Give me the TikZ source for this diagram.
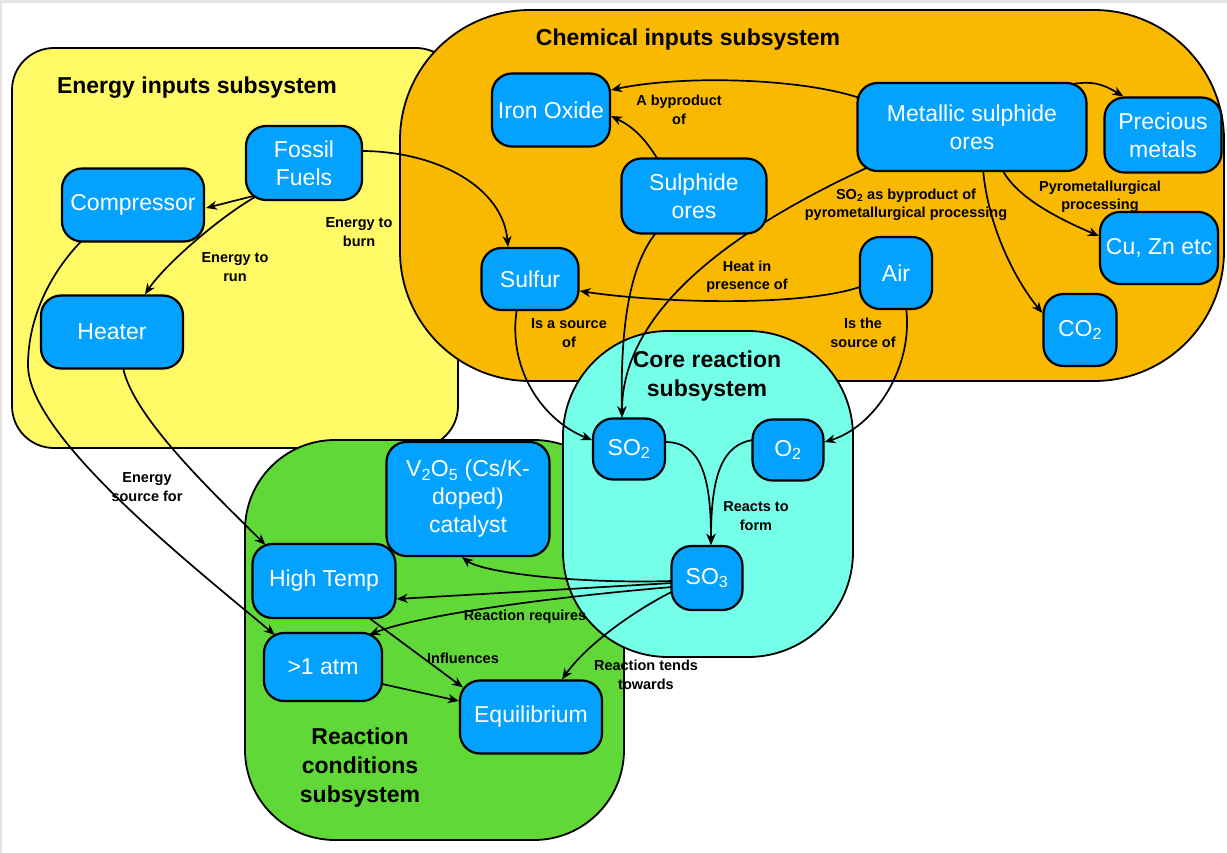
\documentclass[tikz,border=0pt]{standalone}
\usepackage{fontspec}
\setmainfont{Liberation Sans}
\usetikzlibrary{arrows.meta,calc}
\pgfdeclarelayer{bg}
\pgfdeclarelayer{edges}
\pgfsetlayers{bg,edges,main}
\definecolor{cyel}{RGB}{255,250,102}
\definecolor{corg}{RGB}{249,185,0}
\definecolor{cgrn}{RGB}{96,216,56}
\definecolor{ccyn}{RGB}{118,255,232}
\definecolor{cblu}{RGB}{3,162,255}
\tikzset{
  subsys/.style={draw=black, line width=1.8pt},
  box/.style={draw=black, fill=cblu, line width=2.2pt, rounded corners=20pt, text=white,
    align=center, font=\fontsize{23}{28}\selectfont, inner sep=0pt},
  ttl/.style={align=center, font=\bfseries\fontsize{23}{29}\selectfont, inner sep=0pt},
  lab/.style={align=center, font=\bfseries\fontsize{14.5}{18.5}\selectfont, inner sep=0pt},
  arr/.style={line width=1.7pt, -{Stealth[length=11pt,width=9pt]}},
}
\begin{document}
\begin{tikzpicture}[x=1pt,y=-1pt]
\useasboundingbox (0,0) rectangle (1227,853);
\begin{pgfonlayer}{bg}
  \fill[gray!20] (0,0) rectangle (1227,3);
  \fill[gray!20] (0,0) rectangle (2,853);
  \draw[subsys, fill=cyel, rounded corners=42pt] (12,48) rectangle (458,448);
  \draw[subsys, fill=corg, rounded corners=130pt] (400,10) rectangle (1224,381);
  \draw[subsys, fill=cgrn, rounded corners=90pt] (245,440) rectangle (624,840);
  \draw[subsys, fill=ccyn, rounded corners=105pt] (563,331) rectangle (853,657);
\end{pgfonlayer}

% titles
\node[ttl] (t1) at (197,88) {Energy inputs subsystem};
\node[ttl] (t2) at (688,40) {Chemical inputs subsystem};
\node[ttl] (t3) at (707,376) {Core reaction\\subsystem};
\node[ttl] (t4) at (360,768) {Reaction\\conditions\\subsystem};

% nodes
\node[box, minimum width=116pt, minimum height=74pt] (ff) at (304,163) {Fossil\\Fuels};
\node[box, minimum width=142pt, minimum height=73pt] (comp) at (133,205) {Compressor};
\node[box, minimum width=142pt, minimum height=73pt] (heat) at (112,332) {Heater};
\node[box, minimum width=118pt, minimum height=73pt] (iron) at (551,110) {Iron Oxide};
\node[box, minimum width=145pt, minimum height=75pt] (sulph) at (694,196) {Sulphide\\ores};
\node[box, minimum width=229pt, minimum height=88pt] (metal) at (972,127) {Metallic sulphide\\ores};
\node[box, minimum width=117pt, minimum height=75pt] (prec) at (1163,135) {Precious\\metals};
\node[box, minimum width=97pt, minimum height=62pt] (sulfur) at (530,279) {Sulfur};
\node[box, minimum width=72pt, minimum height=72pt] (air) at (896,273) {Air};
\node[box, minimum width=118pt, minimum height=72pt] (cuzn) at (1159,248) {Cu, Zn etc};
\node[box, minimum width=73pt, minimum height=72pt] (co2) at (1080,330) {CO\textsubscript{2}};
\node[box, minimum width=72pt, minimum height=61pt] (so2) at (629,449) {SO\textsubscript{2}};
\node[box, minimum width=71pt, minimum height=61pt] (o2) at (788,450) {O\textsubscript{2}};
\node[box, minimum width=163pt, minimum height=114pt] (v2o5) at (468,499) {V\textsubscript{2}O\textsubscript{5} (Cs/K-\\doped)\\catalyst};
\node[box, minimum width=71pt, minimum height=64pt] (so3) at (707,578) {SO\textsubscript{3}};
\node[box, minimum width=143pt, minimum height=74pt] (hight) at (324,581) {High Temp};
\node[box, minimum width=118pt, minimum height=68pt] (atm) at (323,667) {>1 atm};
\node[box, minimum width=142pt, minimum height=73pt] (eq) at (531,717) {Equilibrium};

% labels
\node[lab] (runlab) at (235,267) {Energy to\\run};
\node[lab] (burnlab) at (359,232) {Energy to\\burn};
\node[lab] (srclab) at (147,487) {Energy\\source for};
\node[lab] (byplab) at (679,110) {A byproduct\\of};
\node[lab] (so2lab) at (906,205) {SO\textsubscript{2} as byproduct of\\pyrometallurgical processing};
\node[lab] (pyrolab) at (1100,197) {Pyrometallurgical\\processing};
\node[lab] (heatlab) at (747,277) {Heat in\\presence of};
\node[lab] (isalab) at (569,333) {Is a source\\of};
\node[lab] (isthelab) at (863,333) {Is the\\source of};
\node[lab] (reactlab) at (756,516) {Reacts to\\form};
\node[lab] (reqlab) at (525,617) {Reaction requires};
\node[lab] (inflab) at (463,658) {Influences};
\node[lab] (tendlab) at (646,675) {Reaction tends\\towards};

\coordinate (bendfour) at (28,365);

\begin{pgfonlayer}{edges}
  % energy inputs
  \draw[arr] ($(ff.south west)+(12,-6)$) -- ($(comp.east)+(1,3)$);
  \draw[arr] ($(ff.south west)+(10,-4)$) .. controls +(-35,20) and +(20,-30) .. ($(heat.north)+(33,0)$);
  \draw[arr] ($(ff.east)+(-2,-12)$) .. controls +(75,0) and +(-5,-60) .. ($(sulfur.north)+(-22,0)$);
  \draw[arr] ($(comp.south west)+(22,-3)$) .. controls +(-30,30) and +(0,-50) .. (bendfour)
             .. controls +(0,70) and +(-90,-75) .. ($(atm.north west)+(12,3)$);
  \draw[arr] ($(heat.south)+(11,-2)$) .. controls +(10,50) and +(-50,-50) .. ($(hight.north west)+(14,2)$);
  % chemical inputs
  \draw[arr] ($(metal.north west)+(3,16)$) .. controls +(-60,-20) and +(70,-15) .. ($(iron.east)+(0,-20)$);
  \draw[arr] ($(sulph.north west)+(38,3)$) .. controls +(-15,-25) and +(20,10) .. ($(iron.east)+(0,6)$);
  \draw[arr] ($(metal.north east)+(-20,3)$) .. controls +(25,-5) and +(-20,-12) .. ($(prec.north west)+(20,0)$);
  \draw[arr] ($(metal.south)+(30,-3)$) .. controls +(15,30) and +(-35,-15) .. ($(cuzn.west)+(0,-12)$);
  \draw[arr] ($(metal.south)+(11,-3)$) .. controls +(5,60) and +(-25,-30) .. ($(co2.west)+(0,-17)$);
  \draw[arr] ($(metal.south west)+(12,-5)$) .. controls +(-130,60) and +(0,-110) .. ($(so2.north)+(-7,0)$);
  \draw[arr] ($(sulph.south)+(-37,-3)$) .. controls +(-25,30) and +(-2,-100) .. ($(so2.north)+(-7,0)$);
  \draw[arr] ($(air.west)+(1,14)$) .. controls +(-60,20) and +(80,12) .. ($(sulfur.east)+(0,12)$);
  \draw[arr] ($(sulfur.south)+(-13,-3)$) .. controls +(-10,60) and +(-50,-20) .. ($(so2.west)+(0,-9)$);
  \draw[arr] ($(air.south)+(10,-3)$) .. controls +(8,60) and +(50,-15) .. ($(o2.east)+(0,-8)$);
  % core reaction
  \draw[arr] ($(so2.east)+(-1,-7)$) .. controls +(35,0) and +(0,-70) .. ($(so3.north)+(4,0)$);
  \draw[arr] ($(o2.west)+(1,-10)$) .. controls +(-30,5) and +(0,-70) .. ($(so3.north)+(4,0)$);
  \draw[arr] ($(so3.west)+(2,3)$) .. controls +(-100,3) and +(20,15) .. ($(v2o5.south)+(-6,0)$);
  \draw[arr] ($(so3.west)+(2,5)$) -- ($(hight.east)+(0,18)$);
  \draw[arr] ($(so3.west)+(2,9)$) .. controls +(-120,10) and +(50,-20) .. ($(atm.north east)+(-14,3)$);
  \draw[arr] ($(so3.west)+(3,13)$) .. controls +(-40,20) and +(25,-35) .. ($(eq.north)+(31,0)$);
  % reaction conditions
  \draw[arr] ($(hight.south east)+(-30,-3)$) -- ($(eq.north west)+(4,8)$);
  \draw[arr] ($(atm.east)+(-1,17)$) -- ($(eq.west)+(0,-16)$);
\end{pgfonlayer}
\end{tikzpicture}
\end{document}
